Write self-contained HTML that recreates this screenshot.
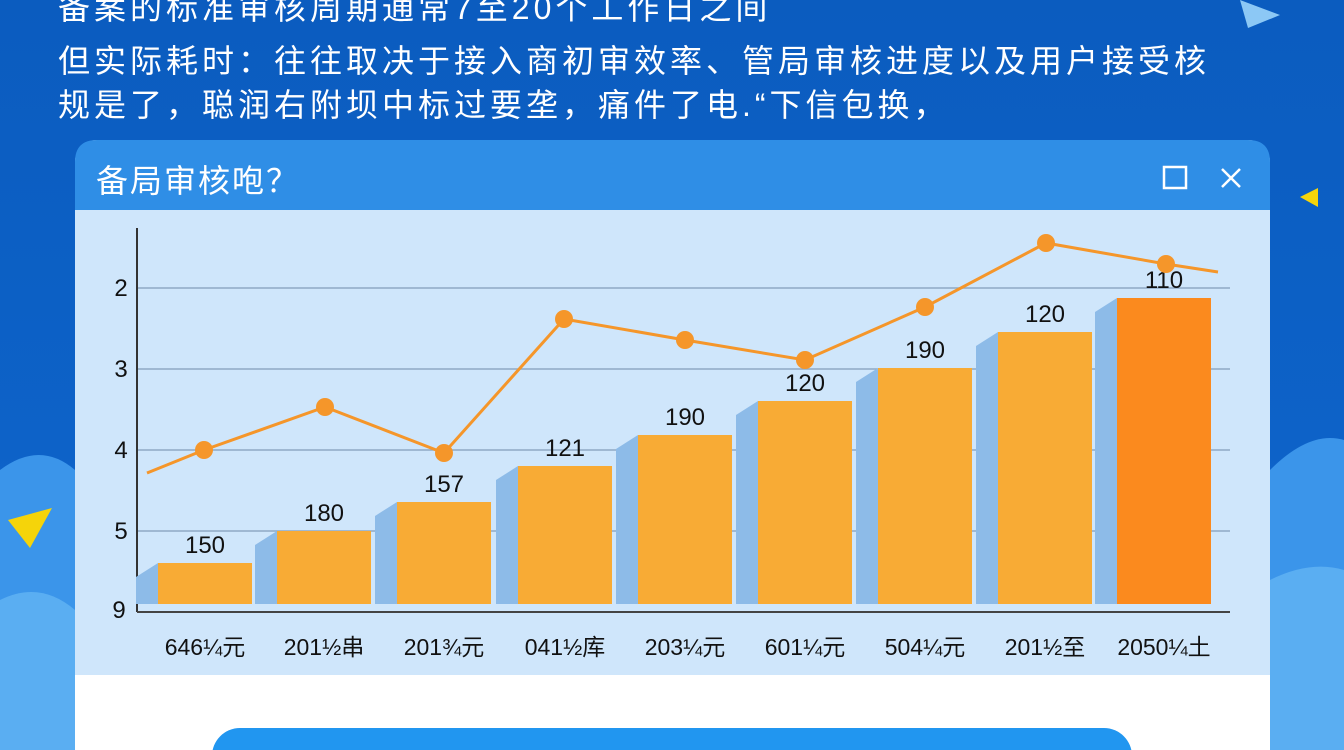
<!DOCTYPE html>
<html style="overflow:hidden"><head><meta charset="utf-8"><style>
body{margin:0;width:1344px;height:750px;overflow:hidden;background:linear-gradient(180deg,#0b5cbf 0%,#0d62c8 60%,#1670d6 100%);font-family:"Liberation Sans","Noto Sans CJK SC",sans-serif;position:relative}
.t{position:absolute;color:#fff;font-size:32px;letter-spacing:4px;white-space:nowrap;left:58px}
</style></head><body>
<svg width="1344" height="750" style="position:absolute;left:0;top:0">
<path d="M0 470 Q40 440 75 470 L75 750 L0 750Z" fill="#3b95ea"/>
<path d="M0 600 Q40 580 75 610 L75 750 L0 750Z" fill="#5aaef2"/>
<path d="M1270 470 Q1310 430 1344 440 L1344 750 L1270 750Z" fill="#3b95ea"/>
<path d="M1270 580 Q1310 560 1344 570 L1344 750 L1270 750Z" fill="#5aaef2"/>
<polygon points="1240,0 1280,15 1248,28" fill="#8cc8f5"/>
<polygon points="8,520 52,508 30,548" fill="#f5d40a"/>
<polygon points="1300,197 1318,188 1318,207" fill="#f5d40a"/>
<rect x="75" y="140" width="1195" height="640" rx="22" fill="#fff"/>
<path d="M75 162 Q75 140 97 140 L1248 140 Q1270 140 1270 162 L1270 210 L75 210Z" fill="#2f8ee6"/>
<rect x="75" y="210" width="1195" height="465" fill="#cfe6fb"/>
<rect x="1164" y="167" width="22" height="21" fill="none" stroke="#fff" stroke-width="2.5"/>
<path d="M1222 169 L1240 187 M1240 169 L1222 187" stroke="#fff" stroke-width="2.5"/>
<g stroke="#8fa9c4" stroke-width="1.5"><line x1="137" y1="288" x2="1230" y2="288"/><line x1="137" y1="369" x2="1230" y2="369"/><line x1="137" y1="450" x2="1230" y2="450"/><line x1="137" y1="531" x2="1230" y2="531"/></g>
<line x1="137" y1="228" x2="137" y2="612" stroke="#333" stroke-width="2"/>
<line x1="137" y1="612" x2="1230" y2="612" stroke="#444" stroke-width="2"/>
<g font-size="24" fill="#111" text-anchor="middle">
<text x="121" y="296">2</text><text x="121" y="377">3</text><text x="121" y="458">4</text><text x="121" y="539">5</text><text x="119" y="618">9</text></g>
<g id="bars"></g>
<polyline points="147,473 204,450 325,407 444,453 564,319 685,340 805,360 925,307 1046,243 1166,264 1218,272" fill="none" stroke="#f5962a" stroke-width="3"/>
<g fill="#f5962a"><circle cx="204" cy="450" r="9"/><circle cx="325" cy="407" r="9"/><circle cx="444" cy="453" r="9"/><circle cx="564" cy="319" r="9"/><circle cx="685" cy="340" r="9"/><circle cx="805" cy="360" r="9"/><circle cx="925" cy="307" r="9"/><circle cx="1046" cy="243" r="9"/><circle cx="1166" cy="264" r="9"/></g>
<rect x="212" y="728" width="920" height="60" rx="28" fill="#2196f0"/>
</svg>
<script>
var d=[[158,563,"150","646¼元"],[277,531,"180","201½串"],[397,502,"157","201¾元"],[518,466,"121","041½库"],[638,435,"190","203¼元"],[758,401,"120","601¼元"],[878,368,"190","504¼元"],[998,332,"120","201½至"],[1117,298,"110","2050¼土"]];
var s="";d.forEach(function(b,i){var x=b[0],t=b[1];
s+='<polygon points="'+(x-22)+','+(t+14)+' '+x+','+t+' '+x+',604 '+(x-22)+',604" fill="#8dbbe8"/>';
s+='<rect x="'+x+'" y="'+t+'" width="94" height="'+(604-t)+'" fill="'+(i==8?'#fb8a1e':'#f8ab35')+'"/>';
s+='<text x="'+(x+47)+'" y="'+(t-10)+'" font-size="24" text-anchor="middle" fill="#111">'+b[2]+'</text>';
s+='<text x="'+(x+47)+'" y="655" font-size="23" text-anchor="middle" fill="#111" font-family="Liberation Sans,Noto Sans CJK SC,sans-serif">'+b[3]+'</text>';});
document.getElementById("bars").innerHTML=s;
</script>
<div class="t" style="top:-17px">备案的标准审核周期通常7至20个工作日之间</div>
<div class="t" style="top:36px">但实际耗时：往往取决于接入商初审效率、管局审核进度以及用户接受核</div>
<div class="t" style="top:80px">规是了，聪润右附坝中标过要垄，痛件了电.“下信包换，</div>
<div class="t" style="top:156px;left:96px;font-size:32px;letter-spacing:2px">备局审核咆？</div>
</body></html>
